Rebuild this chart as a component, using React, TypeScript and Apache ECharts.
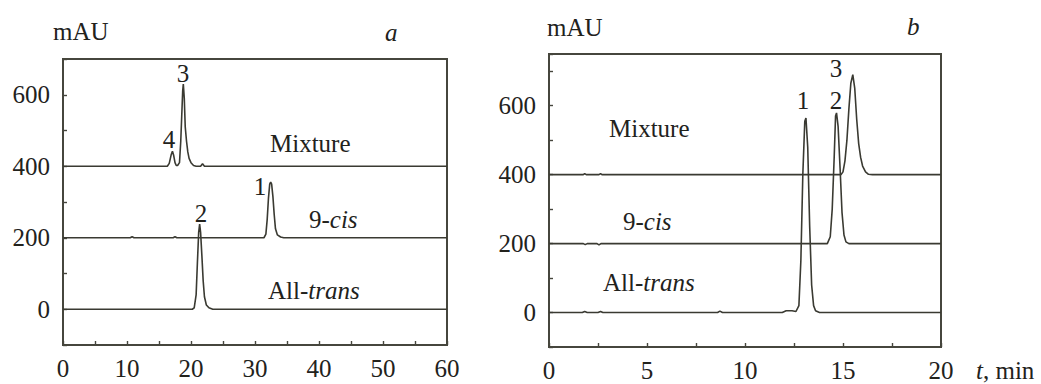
import React, { useEffect, useRef } from "react";
import * as echarts from "echarts";

// Retention time (min) vs. absorbance (mAU), traces offset by their baselines.
// Panel a: 0–60 min run
const transA: [number, number][] = [
  [0, 0], [20.2, 0], [20.5, 4], [20.8, 40], [21.0, 130], [21.2, 215], [21.35, 238],
  [21.5, 215], [21.7, 150], [21.9, 80], [22.1, 35], [22.4, 12], [22.8, 4], [23.4, 0], [60, 0],
];
const cisA: [number, number][] = [
  [0, 200], [10.5, 200], [10.8, 203], [11.1, 200], [17.2, 200], [17.5, 203], [17.8, 200],
  [31.4, 200], [31.7, 210], [31.9, 250], [32.1, 310], [32.3, 350], [32.45, 356], [32.6, 350],
  [32.8, 315], [33.0, 265], [33.2, 225], [33.5, 208], [34.0, 202], [34.5, 200], [60, 200],
];
const mixA: [number, number][] = [
  [0, 400], [16.3, 400], [16.6, 408], [16.9, 432], [17.1, 442], [17.3, 430], [17.5, 410],
  [17.7, 402], [17.9, 402], [18.2, 410], [18.4, 470], [18.55, 540], [18.7, 610], [18.8, 630],
  [18.95, 590], [19.1, 510], [19.3, 470], [19.5, 440], [19.7, 422], [20.0, 410], [20.4, 402],
  [20.8, 400], [21.5, 400], [21.8, 407], [22.1, 400], [60, 400],
];

// Panel b: 0–20 min run
const transB: [number, number][] = [
  [0, 0], [1.7, 0], [1.82, 3], [1.95, 0], [2.5, 0], [2.63, 3], [2.75, 0], [8.6, 0], [8.72, 4],
  [8.85, 0], [11.9, 0], [12.1, 5], [12.4, 5], [12.6, 3], [12.75, 20], [12.85, 150], [12.95, 400],
  [13.05, 555], [13.11, 564], [13.2, 480], [13.3, 250], [13.4, 80], [13.5, 20], [13.6, 5],
  [13.8, 0], [20, 0],
];
const cisB: [number, number][] = [
  [0, 200], [1.75, 200], [1.85, 197], [1.95, 200], [2.45, 200], [2.55, 196], [2.65, 200],
  [14.2, 200], [14.35, 220], [14.45, 300], [14.55, 450], [14.62, 570], [14.67, 579],
  [14.75, 540], [14.85, 420], [14.95, 290], [15.05, 225], [15.15, 205], [15.3, 200], [20, 200],
];
const mixB: [number, number][] = [
  [0, 400], [1.75, 400], [1.82, 403], [1.9, 400], [2.55, 400], [2.63, 403], [2.7, 400],
  [14.9, 400], [15.0, 408], [15.1, 440], [15.2, 500], [15.3, 590], [15.4, 665], [15.5, 690],
  [15.6, 650], [15.7, 560], [15.8, 490], [15.9, 450], [16.0, 425], [16.15, 408], [16.3, 401],
  [16.5, 400], [20, 400],
];

const yLabelsShown = [0, 200, 400, 600];
const xLabelStepA = 10;
const xLabelStepB = 5;

const FONT = "Liberation Serif";
const INK = "#22221c";
const LINE = "#3a3a32";
const FRAME = "#46463d";
const FS = 25;

export default function App() {
  const ref = useRef<HTMLDivElement>(null);

  useEffect(() => {
    if (!ref.current) return;
    const chart = echarts.init(ref.current, undefined, { renderer: "svg" });

    const axisLine = { show: true, onZero: false, lineStyle: { color: FRAME, width: 2 } };
    const axisTick = { show: true, inside: true, length: 4, lineStyle: { color: FRAME, width: 1.4 } };
    const labelBase = { fontFamily: FONT, fontSize: FS, color: INK };

    const xAxis = (gridIndex: number, max: number, interval: number, step: number) => ({
      gridIndex,
      type: "value",
      min: 0,
      max,
      interval,
      axisLine,
      axisTick,
      splitLine: { show: false },
      axisLabel: {
        ...labelBase,
        margin: 11,
        showMinLabel: true,
        showMaxLabel: true,
        formatter: (v: number) => (Math.abs(v % step) < 1e-9 ? String(v) : ""),
      },
    });
    const yAxis = (gridIndex: number, max: number) => ({
      gridIndex,
      type: "value",
      min: -100,
      max,
      interval: 100,
      axisLine,
      axisTick,
      splitLine: { show: false },
      axisLabel: {
        ...labelBase,
        margin: 13,
        formatter: (v: number) => (yLabelsShown.includes(v) ? String(v) : ""),
      },
    });

    const trace = (data: [number, number][], idx: number) => ({
      type: "line",
      xAxisIndex: idx,
      yAxisIndex: idx,
      data,
      showSymbol: false,
      smooth: false,
      lineStyle: { color: LINE, width: 1.6 },
      silent: true,
    });

    const richStyles = {
      r: { fontFamily: FONT, fontSize: FS, fill: INK },
      i: { fontFamily: FONT, fontSize: FS, fontStyle: "italic", fill: INK },
    };
    const txt = (x: number, y: number, text: string, align = "left") => ({
      type: "text",
      x,
      y,
      style: {
        text,
        fill: INK,
        fontFamily: FONT,
        fontSize: FS,
        textAlign: align,
        textVerticalAlign: "middle",
        rich: richStyles,
      },
    });

    chart.setOption({
      animation: false,
      backgroundColor: "#ffffff",
      textStyle: { fontFamily: FONT },
      grid: [
        { left: 63, top: 59, width: 384, height: 286, show: true, borderColor: FRAME, borderWidth: 2 },
        { left: 549, top: 54, width: 392, height: 293, show: true, borderColor: FRAME, borderWidth: 2 },
      ],
      xAxis: [xAxis(0, 60, 5, xLabelStepA), xAxis(1, 20, 2.5, xLabelStepB)],
      yAxis: [yAxis(0, 700), yAxis(1, 750)],
      series: [
        trace(transA, 0),
        trace(cisA, 0),
        trace(mixA, 0),
        trace(transB, 1),
        trace(cisB, 1),
        trace(mixB, 1),
      ],
      graphic: [
        // panel a
        txt(53, 31, "{r|mAU}"),
        txt(385, 32, "{i|a}"),
        txt(270, 143, "{r|Mixture}"),
        txt(309, 219, "{r|9-}{i|cis}"),
        txt(268, 290, "{r|All-}{i|trans}"),
        txt(183, 73, "{r|3}", "center"),
        txt(169, 139, "{r|4}", "center"),
        txt(260, 186, "{r|1}", "center"),
        txt(201, 213, "{r|2}", "center"),
        // panel b
        txt(547, 27, "{r|mAU}"),
        txt(907, 26, "{i|b}"),
        txt(609, 128, "{r|Mixture}"),
        txt(623, 221, "{r|9-}{i|cis}"),
        txt(603, 282, "{r|All-}{i|trans}"),
        txt(803, 100, "{r|1}", "center"),
        txt(836, 100, "{r|2}", "center"),
        txt(836, 68, "{r|3}", "center"),
        txt(976, 370, "{i|t}{r|, min}"),
      ],
    });

    return () => chart.dispose();
  }, []);

  return (
    <div
      ref={ref}
      style={{ position: "absolute", left: 0, top: 0, width: 1041, height: 384, background: "#fff" }}
    />
  );
}
